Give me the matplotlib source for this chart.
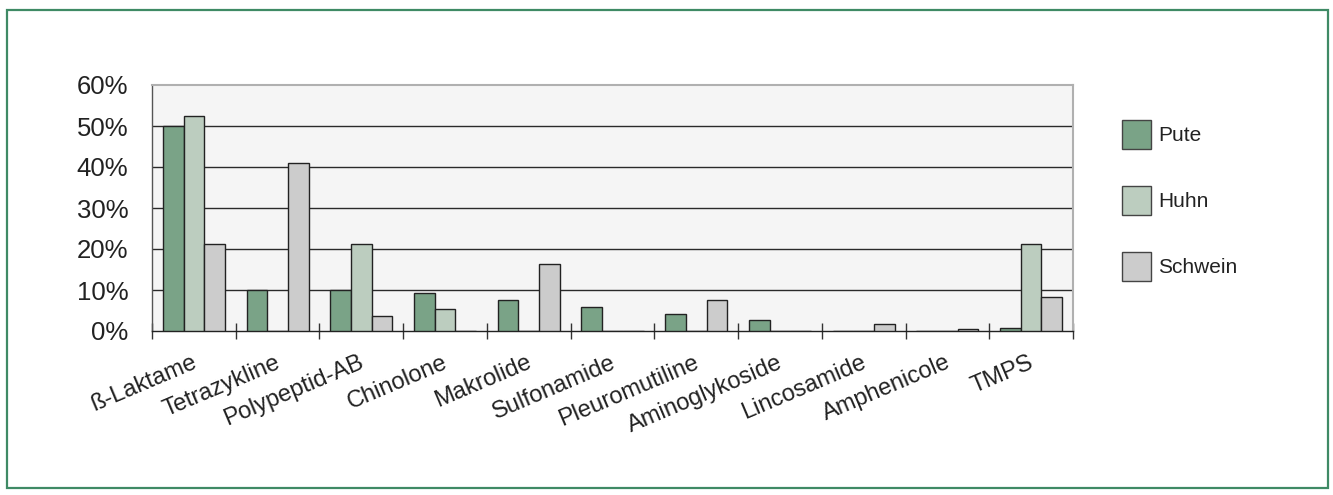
import matplotlib
matplotlib.use("Agg")
import matplotlib.pyplot as plt
import numpy as np
from matplotlib.patches import Rectangle

categories = ["ß-Laktame", "Tetrazykline", "Polypeptid-AB", "Chinolone", "Makrolide",
              "Sulfonamide", "Pleuromutiline", "Aminoglykoside", "Lincosamide",
              "Amphenicole", "TMPS"]
pute =    [50.0, 10.0, 10.0, 9.2, 7.5, 5.8, 4.2, 2.6, 0.0, 0.0, 0.8]
huhn =    [52.4, 0.0, 21.1, 5.4, 0.0, 0.0, 0.0, 0.0, 0.0, 0.0, 21.1]
schwein = [21.1, 41.0, 3.6, 0.0, 16.3, 0.0, 7.6, 0.0, 1.8, 0.6, 8.2]
series_names = ["Pute", "Huhn", "Schwein"]
yticks = [0, 10, 20, 30, 40, 50, 60]
ytick_labels = ["0%", "10%", "20%", "30%", "40%", "50%", "60%"]

colors = ["#7aa387", "#bccdbf", "#cccccc"]

plt.rcParams['font.family'] = ['Liberation Sans', 'DejaVu Sans']

W, H = 1333, 495
fig = plt.figure(figsize=(W / 100, H / 100), dpi=100)
fig.patch.set_facecolor("white")

# outer green frame
fig.patches.append(Rectangle((7 / W, 1 - 488 / H), (1328 - 7) / W, (488 - 10) / H,
                             transform=fig.transFigure, fill=False,
                             edgecolor="#3f8a65", linewidth=1.6))

ax = fig.add_axes([152 / W, 1 - 331 / H, (1073 - 152) / W, (331 - 85) / H])
ax.set_facecolor("#f5f5f5")

x = np.arange(len(categories))
bw = 0.247
handles = []
for i, (vals, name) in enumerate(zip([pute, huhn, schwein], series_names)):
    b = ax.bar(x + (i - 1) * bw, vals, width=bw, color=colors[i],
               edgecolor="#222222", linewidth=1.0, label=name, zorder=3)
    handles.append(b)

ax.set_xlim(-0.5, len(categories) - 0.5)
ax.set_ylim(0, 60)
ax.set_yticks(yticks)
ax.set_yticklabels(ytick_labels, fontsize=18.5, color="#222222")
ax.tick_params(axis='y', length=0, pad=17)
for yv in yticks[1:-1]:
    ax.axhline(yv, color="#2a2a2a", linewidth=1.0, zorder=1)

ax.set_xticks(np.arange(len(categories) + 1) - 0.5)
ax.set_xticklabels([])
ax.tick_params(axis='x', direction='inout', length=12, width=1, color="#333333")
for i, c in enumerate(categories):
    ax.text(i - 0.03, -5.0, c, rotation=23, rotation_mode='anchor', ha='right', va='top',
            fontsize=17, color="#222222")

ax.spines['bottom'].set_color("#222222")
ax.spines['bottom'].set_linewidth(1.0)
ax.spines['left'].set_color("#555555")
ax.spines['left'].set_linewidth(1.0)
ax.spines['top'].set_color("#b0b0b0")
ax.spines['right'].set_color("#b0b0b0")
ax.spines['top'].set_linewidth(1.5)
ax.spines['right'].set_linewidth(1.5)

leg = fig.legend(handles=handles, labels=series_names, loc='upper left',
                 bbox_to_anchor=(1122 / W, 1 - 120 / H), frameon=False,
                 fontsize=15, handlelength=1.4, handleheight=1.8,
                 handletextpad=0.35, labelspacing=1.75, borderpad=0, borderaxespad=0)
for t in leg.get_texts():
    t.set_color("#222222")
for p in leg.get_patches():
    p.set_edgecolor("#444444")

fig.savefig("out.png", dpi=100)
